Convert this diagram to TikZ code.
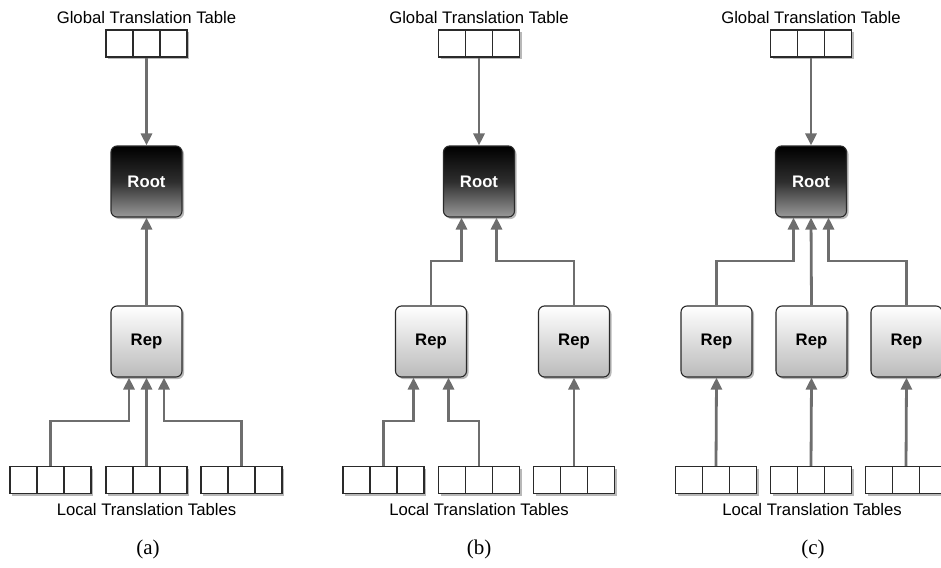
\documentclass[tikz,border=0pt]{standalone}
\usepackage{fontspec}
\newfontfamily\labelfont{Liberation Sans}
\newfontfamily\captionfont{Liberation Serif}
\usetikzlibrary{arrows.meta,shadows}
\definecolor{linkgray}{HTML}{6E6E6E}
\definecolor{boxedge}{HTML}{2A2A2A}
\begin{document}
\begin{tikzpicture}[x=1pt,y=-1pt,
  lbl/.style={font=\labelfont\fontsize{16.7}{20}\selectfont, inner sep=0pt},
  panelcaption/.style={font=\captionfont\fontsize{21}{25}\selectfont, inner sep=0pt},
  shadowed/.style={drop shadow={shadow xshift=2pt, shadow yshift=-2pt, opacity=0.28, fill=black}},
  tablebox/.style={draw=boxedge, line width=1.2pt, fill=white, minimum width=81pt,
    minimum height=27pt, inner sep=0pt, shadowed,
    path picture={
      \draw[boxedge, line width=1.2pt]
        ([xshift=27pt]path picture bounding box.north west) -- ([xshift=27pt]path picture bounding box.south west)
        ([xshift=-27pt]path picture bounding box.north east) -- ([xshift=-27pt]path picture bounding box.south east);}},
  rootbox/.style={draw=boxedge, line width=1.1pt, rounded corners=6pt, minimum width=71pt,
    minimum height=71pt, inner sep=0pt, shadowed, top color=black, bottom color={black!40},
    middle color={black!82}, text=white, font=\labelfont\bfseries\fontsize{16.7}{20}\selectfont},
  repbox/.style={draw=boxedge, line width=1.1pt, rounded corners=6pt, minimum width=71pt,
    minimum height=71pt, inner sep=0pt, shadowed, top color=white, bottom color={black!27},
    text=black, font=\labelfont\bfseries\fontsize{16.7}{20}\selectfont},
  conn/.style={draw=linkgray, line width=2.8pt, -{Triangle[length=12pt,width=11pt]}}
]
\useasboundingbox (0,0) rectangle (941,567);
\clip (0,0) rectangle (941,567);

% rows where the elbow connectors turn
\coordinate (upperjoin) at (0,261);
\coordinate (lowerjoin) at (0,421);

% ---------------- panel (a) ----------------
\node[lbl] (ga-lbl) at (146.5,18) {Global Translation Table};
\node[tablebox] (ga) at (146.5,43.5) {};
\node[rootbox] (roota) at (146.5,181.5) {Root};
\node[repbox] (repa) at (146.5,341.5) {Rep};
\node[tablebox] (la1) at (50.5,480) {};
\node[tablebox] (la2) at (146.5,480) {};
\node[tablebox] (la3) at (241.5,480) {};
\node[lbl] (la-lbl) at (146.5,510) {Local Translation Tables};
\node[panelcaption] (capa) at (148,549) {(a)};

\draw[conn] (ga.south) -- (roota.north);
\draw[conn] (repa.north) -- (roota.south);
\draw[conn] (la1.north) -- (la1.north |- lowerjoin) -| ([xshift=-17.5pt]repa.south);
\draw[conn] (la2.north) -- (repa.south);
\draw[conn] (la3.north) -- (la3.north |- lowerjoin) -| ([xshift=17.5pt]repa.south);

% ---------------- panel (b) ----------------
\node[lbl] (gb-lbl) at (479,18) {Global Translation Table};
\node[tablebox] (gb) at (479,43.5) {};
\node[rootbox] (rootb) at (479,181.5) {Root};
\node[repbox] (repb1) at (431,341.5) {Rep};
\node[repbox] (repb2) at (574,341.5) {Rep};
\node[tablebox] (lb1) at (383.5,480) {};
\node[tablebox] (lb2) at (479,480) {};
\node[tablebox] (lb3) at (574,480) {};
\node[lbl] (lb-lbl) at (479,510) {Local Translation Tables};
\node[panelcaption] (capb) at (479,549) {(b)};

\draw[conn] (gb.south) -- (rootb.north);
\draw[conn] (repb1.north) -- (repb1.north |- upperjoin) -| ([xshift=-17.5pt]rootb.south);
\draw[conn] (repb2.north) -- (repb2.north |- upperjoin) -| ([xshift=17.5pt]rootb.south);
\draw[conn] (lb1.north) -- (lb1.north |- lowerjoin) -| ([xshift=-17.5pt]repb1.south);
\draw[conn] (lb2.north) -- (lb2.north |- lowerjoin) -| ([xshift=17.5pt]repb1.south);
\draw[conn] (lb3.north) -- (repb2.south);

% ---------------- panel (c) ----------------
\node[lbl] (gc-lbl) at (811,18) {Global Translation Table};
\node[tablebox] (gc) at (811,43.5) {};
\node[rootbox] (rootc) at (811,181.5) {Root};
\node[repbox] (repc1) at (716.5,341.5) {Rep};
\node[repbox] (repc2) at (811.5,341.5) {Rep};
\node[repbox] (repc3) at (906.5,341.5) {Rep};
\node[tablebox] (lc1) at (716,480) {};
\node[tablebox] (lc2) at (811,480) {};
\node[tablebox] (lc3) at (906,480) {};
\node[lbl] (lc-lbl) at (812,510) {Local Translation Tables};
\node[panelcaption] (capc) at (813,549) {(c)};

\draw[conn] (gc.south) -- (rootc.north);
\draw[conn] (repc1.north) -- (repc1.north |- upperjoin) -| ([xshift=-17.5pt]rootc.south);
\draw[conn] (repc2.north) -- (rootc.south);
\draw[conn] (repc3.north) -- (repc3.north |- upperjoin) -| ([xshift=17.5pt]rootc.south);
\draw[conn] (lc1.north) -- (repc1.south);
\draw[conn] (lc2.north) -- (repc2.south);
\draw[conn] (lc3.north) -- (repc3.south);
\end{tikzpicture}
\end{document}
